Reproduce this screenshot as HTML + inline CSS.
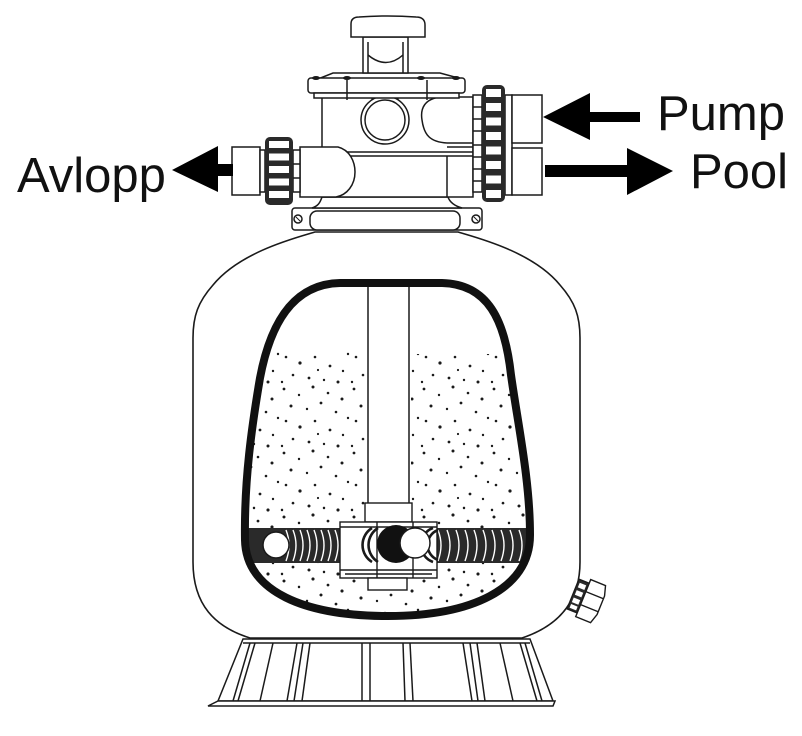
<!DOCTYPE html>
<html><head><meta charset="utf-8"><style>
html,body{margin:0;padding:0;background:#fff;}
svg{display:block;}
</style></head><body>
<svg width="802" height="736" viewBox="0 0 802 736" xmlns="http://www.w3.org/2000/svg">
<defs>
<pattern id="sand" width="70" height="64" patternUnits="userSpaceOnUse">
<g fill="#1a1a1a">
<circle cx="4" cy="5" r="1.4"/><circle cx="19" cy="11" r="1.2"/><circle cx="33" cy="3" r="1.5"/>
<circle cx="48" cy="9" r="1.3"/><circle cx="62" cy="15" r="1.5"/><circle cx="11" cy="22" r="1.5"/>
<circle cx="27" cy="25" r="1.2"/><circle cx="41" cy="19" r="1.4"/><circle cx="56" cy="28" r="1.3"/>
<circle cx="68" cy="34" r="1.2"/><circle cx="6" cy="37" r="1.3"/><circle cx="20" cy="43" r="1.6"/>
<circle cx="35" cy="37" r="1.3"/><circle cx="50" cy="46" r="1.4"/><circle cx="63" cy="51" r="1.2"/>
<circle cx="13" cy="55" r="1.3"/><circle cx="29" cy="58" r="1.4"/><circle cx="44" cy="60" r="1.2"/>
<circle cx="58" cy="62" r="1.5"/><circle cx="38" cy="50" r="1.1"/><circle cx="2" cy="62" r="1.2"/>
</g>
</pattern>
<clipPath id="inner">
<path d="M340,283 L442,283 C488,284 505,320 511,375 C518,425 530,480 530,535 C530,590 470,616 388,616 C305,616 246,592 245,540 C244,480 252,425 260,378 C270,325 292,284 340,283 Z"/>
</clipPath>
</defs>

<rect width="802" height="736" fill="#fff"/>

<!-- ===== BASE ===== -->
<g stroke="#1a1a1a" stroke-width="1.5" fill="#fff">
<polygon points="243,639 530,639 553,701 218,701"/>
<line x1="243" y1="643" x2="530" y2="643"/>
<polygon points="218,701 555,701 553,706 208,706"/>
<g fill="none">
<line x1="250" y1="643" x2="233" y2="701"/><line x1="255" y1="643" x2="238" y2="701"/>
<line x1="273" y1="643" x2="260" y2="701"/>
<line x1="297" y1="643" x2="287" y2="701"/><line x1="303" y1="643" x2="294" y2="701"/><line x1="310" y1="643" x2="302" y2="701"/>
<line x1="362" y1="643" x2="362" y2="701"/><line x1="370" y1="643" x2="370" y2="701"/>
<line x1="403" y1="643" x2="405" y2="701"/><line x1="410" y1="643" x2="413" y2="701"/>
<line x1="463" y1="643" x2="472" y2="701"/><line x1="470" y1="643" x2="478" y2="701"/><line x1="477" y1="643" x2="485" y2="701"/>
<line x1="500" y1="643" x2="513" y2="701"/>
<line x1="520" y1="643" x2="537" y2="701"/><line x1="525" y1="643" x2="542" y2="701"/>
</g>
</g>

<!-- ===== TANK ===== -->
<path d="M315,232 C295,238 240,252 213,285 C198,302 193,316 193,338 L193,562 C193,605 215,627 250,638 L522,638 C555,627 580,605 580,562 L580,338 C580,316 575,302 560,285 C533,252 478,238 458,232 Z" fill="#fff" stroke="#1a1a1a" stroke-width="1.6"/>

<!-- drain fitting -->
<g transform="translate(573,594) rotate(22)" stroke="#1a1a1a" stroke-width="1.4">
<rect x="0" y="-16" width="11" height="32" fill="#2a2a2a"/>
<g fill="#fff" stroke="none">
<rect x="2" y="-13" width="7" height="5"/><rect x="2" y="-5" width="7" height="5"/><rect x="2" y="3" width="7" height="5"/><rect x="2" y="10" width="7" height="4"/>
</g>
<polygon points="11,-20 27,-20 30,-10 30,10 27,20 11,20" fill="#fff"/>
<line x1="11" y1="-7" x2="30" y2="-7"/><line x1="11" y1="7" x2="30" y2="7"/>
</g>

<!-- ===== SAND ===== -->
<g clip-path="url(#inner)">
<rect x="238" y="350" width="129" height="270" fill="url(#sand)"/>
<rect x="411" y="354" width="126" height="266" fill="url(#sand)"/>
<rect x="238" y="503" width="300" height="120" fill="url(#sand)"/>
</g>

<!-- central pipe -->
<line x1="368" y1="285" x2="368" y2="503" stroke="#1a1a1a" stroke-width="1.5"/>
<line x1="409" y1="285" x2="409" y2="503" stroke="#1a1a1a" stroke-width="1.5"/>

<!-- laterals -->
<g clip-path="url(#inner)">
<rect x="248" y="528" width="117" height="35" fill="#2a2a2a"/>
<rect x="425" y="528" width="110" height="35" fill="#2a2a2a"/>
<g stroke="#fff" stroke-width="1.4" fill="none">
<path d="M286,530 Q292,545 286,561"/><path d="M293,530 Q299,545 293,561"/><path d="M300,530 Q306,545 300,561"/>
<path d="M307,530 Q313,545 307,561"/><path d="M314,530 Q320,545 314,561"/><path d="M321,530 Q327,545 321,561"/>
<path d="M328,530 Q334,545 328,561"/><path d="M335,530 Q341,545 335,561"/><path d="M342,530 Q348,545 342,561"/>
<path d="M349,530 Q355,545 349,561"/><path d="M356,530 Q362,545 356,561"/>
<path d="M438,530 Q444,545 438,561"/><path d="M447,530 Q453,545 447,561"/><path d="M456,530 Q462,545 456,561"/>
<path d="M465,530 Q471,545 465,561"/><path d="M474,530 Q480,545 474,561"/><path d="M483,530 Q489,545 483,561"/>
<path d="M492,530 Q498,545 492,561"/><path d="M501,530 Q507,545 501,561"/><path d="M510,530 Q516,545 510,561"/>
<path d="M519,530 Q525,545 519,561"/>
</g>
</g>
<circle cx="276" cy="545" r="13" fill="#fff" stroke="#1a1a1a" stroke-width="1.5"/>

<!-- hub -->
<g stroke="#1a1a1a" stroke-width="1.4" fill="#fff">
<rect x="365" y="503" width="47" height="19"/>
<rect x="340" y="522" width="97" height="56"/>
<line x1="340" y1="527" x2="437" y2="527"/>
<line x1="340" y1="570" x2="437" y2="570"/>
<line x1="345" y1="574" x2="432" y2="574"/>
<line x1="377" y1="522" x2="377" y2="578"/>
<line x1="413" y1="522" x2="413" y2="578"/>
<rect x="368" y="578" width="39" height="12"/>
</g>
<g fill="none" stroke="#1a1a1a" stroke-width="2.6">
<path d="M372,528 A20,20 0 0 0 372,562"/>
<path d="M378,528 A20,20 0 0 0 378,562"/>
<path d="M433,528 A18,18 0 0 0 433,562"/>
<path d="M438,530 A16,16 0 0 0 438,560"/>
</g>
<circle cx="396" cy="544" r="19" fill="#111"/>
<circle cx="415" cy="543" r="15" fill="#fff" stroke="#1a1a1a" stroke-width="1.5"/>

<!-- inner thick outline -->
<path d="M340,283 L442,283 C488,284 505,320 511,375 C518,425 530,480 530,535 C530,590 470,616 388,616 C305,616 246,592 245,540 C244,480 252,425 260,378 C270,325 292,284 340,283 Z" fill="none" stroke="#111" stroke-width="8"/>

<!-- ===== VALVE ===== -->
<g stroke="#1a1a1a" stroke-width="1.5" fill="#fff">
<!-- flange -->
<rect x="292" y="208" width="190" height="22" rx="3"/>
<rect x="310" y="211" width="150" height="19" rx="7"/>
<circle cx="298" cy="219" r="4"/><circle cx="476" cy="219" r="4"/>
<line x1="296" y1="217" x2="300" y2="221" stroke-width="1"/><line x1="474" y1="217" x2="478" y2="221" stroke-width="1"/>
<!-- lower transition -->
<path d="M322,197 C320,203 318,206 312,208 L462,208 C455,206 450,203 448,197 Z"/>
<!-- main body -->
<rect x="322" y="97" width="151" height="100"/>
<line x1="338" y1="152" x2="473" y2="152"/>
<line x1="338" y1="156" x2="473" y2="156"/>
<line x1="447" y1="156" x2="447" y2="197"/>
<line x1="447" y1="143" x2="473" y2="143"/>
<line x1="447" y1="147" x2="473" y2="147"/>
<path d="M447,97 L440,97 C425,99 420,108 422,120 C424,135 430,142 447,143"/>
<!-- left elbow -->
<path d="M300,147 L338,147 C350,150 355,162 355,172 C355,185 347,195 336,197 L300,197 Z"/>
<!-- port circle -->
<rect x="372" y="94" width="26" height="6" stroke-width="1.2"/>
<circle cx="385" cy="120" r="24"/>
<circle cx="385" cy="120" r="20"/>
<!-- cap -->
<path d="M318,79 L333,73 L440,73 L462,79 Z"/>
<rect x="308" y="78" width="157" height="15" rx="3"/>
<rect x="314" y="93" width="145" height="5"/>
<line x1="347" y1="80" x2="347" y2="100"/>
<line x1="427" y1="80" x2="427" y2="100"/>
<!-- stem -->
<path d="M363,37 L363,73 L408,73 L408,37 Z"/>
<path d="M368,42 L368,73 M403,42 L403,73" fill="none"/>
<path d="M368,55 Q386,70 403,55" fill="none"/>
<!-- handle -->
<path d="M351,37 L351,24 Q351,17 359,17 Q388,15 416,17 Q425,17 425,25 L425,37 Z"/>
</g>
<g fill="#1a1a1a">
<ellipse cx="316" cy="78" rx="4" ry="2"/><ellipse cx="347" cy="78" rx="4" ry="2"/>
<ellipse cx="421" cy="78" rx="4" ry="2"/><ellipse cx="456" cy="78" rx="4" ry="2"/>
</g>

<!-- right side fittings -->
<g stroke="#1a1a1a" stroke-width="1.5" fill="#fff">
<rect x="473" y="95" width="9" height="97"/>
<line x1="473" y1="107" x2="482" y2="107"/><line x1="473" y1="119" x2="482" y2="119"/>
<line x1="473" y1="131" x2="482" y2="131"/><line x1="473" y1="145" x2="482" y2="145"/>
<line x1="473" y1="157" x2="482" y2="157"/><line x1="473" y1="169" x2="482" y2="169"/>
<line x1="473" y1="181" x2="482" y2="181"/>
<rect x="505" y="95" width="7" height="100"/>
<rect x="512" y="95" width="30" height="48"/>
<rect x="512" y="148" width="30" height="47"/>
</g>
<rect x="482" y="85" width="23" height="117" rx="5" fill="#2a2a2a"/>
<g fill="#fff">
<rect x="486" y="89" width="15" height="8"/><rect x="486" y="103" width="15" height="8"/>
<rect x="486" y="117.5" width="15" height="8"/><rect x="486" y="132" width="15" height="8"/>
<rect x="486" y="146.5" width="15" height="8"/><rect x="486" y="161" width="15" height="8"/>
<rect x="486" y="175.5" width="15" height="8"/><rect x="486" y="190" width="15" height="8"/>
</g>

<!-- left side fittings -->
<g stroke="#1a1a1a" stroke-width="1.5" fill="#fff">
<rect x="232" y="147" width="28" height="48"/>
<rect x="260" y="150" width="5" height="42"/>
<rect x="293" y="150" width="7" height="42"/>
<line x1="293" y1="164" x2="300" y2="164"/><line x1="293" y1="178" x2="300" y2="178"/>
</g>
<rect x="265" y="137" width="28" height="68" rx="5" fill="#2a2a2a"/>
<g fill="#fff">
<rect x="269" y="141" width="20" height="7"/><rect x="269" y="153.5" width="20" height="7"/>
<rect x="269" y="166" width="20" height="7"/><rect x="269" y="178.5" width="20" height="7"/>
<rect x="269" y="191" width="20" height="7"/>
</g>

<!-- ===== ARROWS ===== -->
<g fill="#000">
<polygon points="172,170 218,146 218,164 233,164 233,176 218,176 218,192"/>
<polygon points="543,117 590,93 590,112 640,112 640,122 590,122 590,140"/>
<polygon points="545,165 627,165 627,148 673,171 627,195 627,177 545,177"/>
</g>

<!-- ===== LABELS ===== -->
<g font-family="'Liberation Sans', Arial, sans-serif" font-size="49" fill="#111">
<text x="17" y="192">Avlopp</text>
<text x="657" y="130">Pump</text>
<text x="690" y="188">Pool</text>
</g>
</svg>
</body></html>
